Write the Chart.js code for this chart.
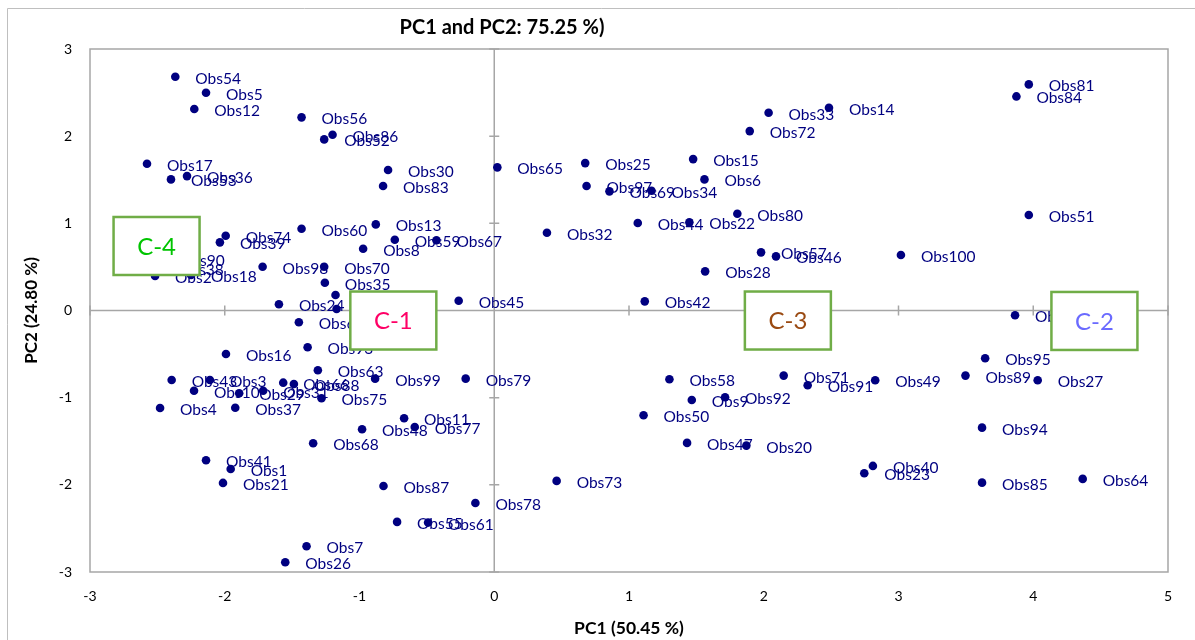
<!DOCTYPE html>
<html>
<head>
<meta charset="utf-8">
<script src="https://cdn.jsdelivr.net/npm/chart.js@4"></script>
<style>
  html, body { margin: 0; padding: 0; background: #fff; }
  #wrap { width: 1195px; height: 640px; }
</style>
</head>
<body>
<div id="wrap"><canvas id="pcaChart"></canvas></div>
<script>
// Observation names and their scores on the two first components
const obsNames = [
  'Obs54','Obs5','Obs12','Obs56','Obs86','Obs52','Obs17','Obs36','Obs53','Obs30',
  'Obs83','Obs65','Obs60','Obs13','Obs74','Obs39','Obs8','Obs59','Obs67','Obs90',
  'Obs38','Obs2','Obs18','Obs98','Obs70','Obs35','Obs24','Obs19','Obs76','Obs45',
  'Obs25','Obs97','Obs69','Obs34','Obs15','Obs6','Obs33','Obs14','Obs72','Obs80',
  'Obs44','Obs22','Obs32','Obs57','Obs46','Obs28','Obs42','Obs81','Obs84','Obs51',
  'Obs100','Obs82','Obs62','Obs93','Obs16','Obs63','Obs99','Obs79','Obs43','Obs3',
  'Obs10','Obs29','Obs31','Obs66','Obs88','Obs75','Obs4','Obs37','Obs11','Obs48',
  'Obs77','Obs68','Obs41','Obs1','Obs21','Obs87','Obs78','Obs55','Obs61','Obs7',
  'Obs26','Obs58','Obs71','Obs91','Obs49','Obs9','Obs92','Obs50','Obs47','Obs20',
  'Obs73','Obs40','Obs23','Obs95','Obs89','Obs27','Obs94','Obs85','Obs64'
];
const pc1 = [
  -2.367,-2.139,-2.226,-1.430,-1.200,-1.262,-2.577,-2.280,-2.399,-0.788,
  -0.825, 0.023,-1.430,-0.879,-1.993,-2.036,-0.973,-0.738,-0.429,-2.487,
  -2.495,-2.517,-2.250,-1.719,-1.262,-1.257,-1.598,-1.178,-1.170,-0.264,
   0.675, 0.685, 0.855, 1.167, 1.476, 1.560, 2.036, 2.484, 1.896, 1.804,
   1.065, 1.448, 0.391, 1.980, 2.091, 1.565, 1.117, 3.967, 3.875, 3.967,
   3.018, 3.865,-1.450,-1.385,-1.991,-1.309,-0.884,-0.212,-2.394,-2.110,
  -2.228,-1.893,-1.715,-1.566,-1.487,-1.282,-2.480,-1.922,-0.669,-0.981,
  -0.590,-1.344,-2.139,-1.956,-2.013,-0.822,-0.140,-0.721,-0.491,-1.393,
  -1.551, 1.300, 2.148, 2.326, 2.827, 1.466, 1.713, 1.108, 1.431, 1.871,
   0.463, 2.810, 2.746, 3.643, 3.497, 4.033, 3.620, 3.620, 4.367
];
const pc2 = [
   2.681, 2.498, 2.311, 2.216, 2.016, 1.963, 1.684, 1.542, 1.504, 1.611,
   1.428, 1.642, 0.938, 0.988, 0.858, 0.782, 0.709, 0.812, 0.805, 0.590,
   0.487, 0.396, 0.407, 0.502, 0.502, 0.319, 0.071, 0.178, 0.017, 0.112,
   1.691, 1.428, 1.367, 1.374, 1.737, 1.504, 2.268, 2.326, 2.058, 1.110,
   1.003, 1.011, 0.892, 0.667, 0.621, 0.449, 0.105, 2.594, 2.456, 1.095,
   0.636,-0.055,-0.135,-0.422,-0.499,-0.686,-0.782,-0.782,-0.797,-0.797,
  -0.920,-0.950,-0.920,-0.828,-0.843,-1.007,-1.118,-1.115,-1.236,-1.362,
  -1.336,-1.523,-1.718,-1.818,-1.978,-2.013,-2.208,-2.425,-2.433,-2.704,
  -2.888,-0.789,-0.747,-0.858,-0.801,-1.026,-0.996,-1.202,-1.519,-1.550,
  -1.955,-1.783,-1.867,-0.548,-0.747,-0.801,-1.344,-1.975,-1.932
];

// cluster tags
const clusterNames = ['C-4', 'C-1', 'C-3', 'C-2'];
const clusterPC1 = [-2.506, -0.749, 2.179, 4.454];
const clusterPC2 = [0.740, -0.115, -0.115, -0.120];
const clusterColors = ['#00c400', '#ff0066', '#9a4a12', '#6a6aff'];

const points = pc1.map((x, i) => ({ x: x, y: pc2[i] }));

const navy = '#000080';
const axisGray = '#a6a6a6';

const pcaDecor = {
  id: 'pcaDecor',
  beforeDatasetsDraw(chart) {
    const { ctx, chartArea: a, scales: { x, y } } = chart;
    ctx.save();
    // outer frame
    ctx.strokeStyle = '#bfbfbf';
    ctx.lineWidth = 1;
    ctx.beginPath();
    ctx.moveTo(7.5, 640);
    ctx.lineTo(7.5, 8.5);
    ctx.lineTo(1195, 8.5);
    ctx.stroke();
    // plot frame
    ctx.strokeStyle = axisGray;
    ctx.lineWidth = 1.5;
    ctx.strokeRect(a.left, a.top, a.right - a.left, a.bottom - a.top);
    // zero axes with their tick marks
    const x0 = x.getPixelForValue(0);
    const y0 = y.getPixelForValue(0);
    ctx.beginPath();
    ctx.moveTo(a.left, y0); ctx.lineTo(a.right, y0);
    ctx.moveTo(x0, a.top); ctx.lineTo(x0, a.bottom);
    x.ticks.forEach(t => {
      const px = x.getPixelForValue(t.value);
      ctx.moveTo(px, y0 - 5); ctx.lineTo(px, y0 + 5);
    });
    y.ticks.forEach(t => {
      const py = y.getPixelForValue(t.value);
      ctx.moveTo(x0 - 5, py); ctx.lineTo(x0 + 5, py);
    });
    ctx.stroke();
    // title
    ctx.fillStyle = '#000';
    ctx.font = 'bold 20px Lato';
    ctx.textAlign = 'center';
    ctx.textBaseline = 'middle';
    ctx.fillText('PC1 and PC2: 75.25 %)', 502, 28);
    ctx.restore();
  },
  afterDatasetsDraw(chart) {
    const { ctx, scales: { x, y } } = chart;
    ctx.save();
    // point labels
    ctx.fillStyle = navy;
    ctx.font = '15.5px Lato';
    ctx.textAlign = 'left';
    ctx.textBaseline = 'middle';
    obsNames.forEach((name, i) => {
      ctx.fillText(name, x.getPixelForValue(pc1[i]) + 20, y.getPixelForValue(pc2[i]) + 2);
    });
    // cluster boxes
    clusterNames.forEach((name, i) => {
      const cx = x.getPixelForValue(clusterPC1[i]);
      const cy = y.getPixelForValue(clusterPC2[i]);
      const w = 86, h = 58;
      ctx.fillStyle = '#fff';
      ctx.fillRect(cx - w / 2, cy - h / 2, w, h);
      ctx.strokeStyle = '#70ad47';
      ctx.lineWidth = 2.5;
      ctx.strokeRect(cx - w / 2, cy - h / 2, w, h);
      ctx.fillStyle = clusterColors[i];
      ctx.font = '24px Lato';
      ctx.textAlign = 'center';
      ctx.fillText(name, cx, cy + 1);
    });
    ctx.restore();
  }
};

const ctx = document.getElementById('pcaChart').getContext('2d');
const pcaChart = new Chart(ctx, {
  type: 'scatter',
  data: {
    datasets: [{
      label: 'Observations',
      data: points,
      pointRadius: 4.3,
      pointHoverRadius: 4.3,
      pointBackgroundColor: navy,
      pointBorderWidth: 0
    }]
  },
  options: {
    responsive: true,
    maintainAspectRatio: false,
    animation: false,
    layout: { padding: { top: 49, right: 27, bottom: 0, left: 0 } },
    plugins: {
      legend: { display: false },
      tooltip: { enabled: false }
    },
    scales: {
      x: {
        type: 'linear',
        min: -3,
        max: 5,
        afterFit: s => { s.height = 68; },
        grid: { display: false, drawTicks: false },
        border: { display: false },
        ticks: { stepSize: 1, padding: 16, color: '#000', font: { family: 'Lato', size: 14 } },
        title: {
          display: true,
          text: 'PC1 (50.45 %)',
          color: '#000',
          font: { family: 'Lato', size: 17.5, weight: 'bold' },
          padding: { top: 0, bottom: 1 }
        }
      },
      y: {
        type: 'linear',
        min: -3,
        max: 3,
        afterFit: s => { s.width = 90; },
        grid: { display: false, drawTicks: false },
        border: { display: false },
        ticks: { stepSize: 1, padding: 18, color: '#000', font: { family: 'Lato', size: 14 } },
        title: {
          display: true,
          text: 'PC2 (24.80 %)',
          color: '#000',
          font: { family: 'Lato', size: 17, weight: 'bold' },
          padding: { top: 21, bottom: 0 }
        }
      }
    }
  },
  plugins: [pcaDecor]
});
</script>
</body>
</html>
